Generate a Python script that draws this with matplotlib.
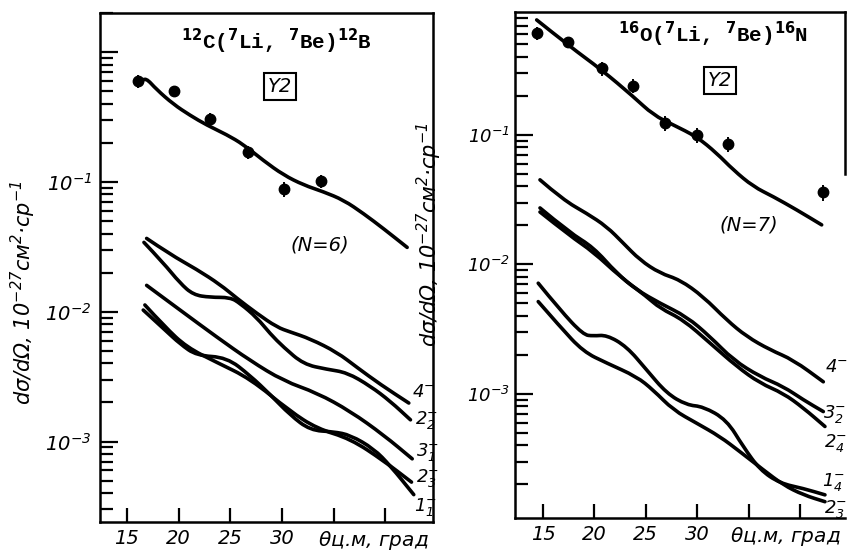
import numpy as np
import matplotlib.pyplot as plt
from matplotlib.ticker import FixedLocator, NullFormatter
from matplotlib.path import Path
from matplotlib.patches import PathPatch

plt.rcParams['mathtext.fontset'] = 'custom'
plt.rcParams['mathtext.rm'] = 'DejaVu Sans:italic'
plt.rcParams['mathtext.it'] = 'DejaVu Sans:italic'
plt.rcParams['mathtext.sf'] = 'DejaVu Sans:italic'
plt.rcParams['mathtext.bf'] = 'DejaVu Sans:bold'

# ---- 12C(7Li,7Be)12B ----
c_exp_theta = [16.1, 19.6, 23.0, 26.7, 30.2, 33.8]
c_exp_sigma = [0.60, 0.50, 0.305, 0.170, 0.088, 0.101]
c_exp_err = [0.07, 0.05, 0.035, 0.02, 0.011, 0.012]

c_sum_theta = [16.58, 16.81, 17.88, 19.49, 21.1, 22.72, 24.66, 26.27, 28.2, 30.15,
               32.08, 34.0, 35.96, 37.9, 39.84, 42.1]
c_sum_sigma = [0.61, 0.637, 0.514, 0.397, 0.326, 0.274, 0.231, 0.194, 0.146, 0.113,
               0.0947, 0.084, 0.0724, 0.0569, 0.0435, 0.0313]

c_4_theta = [16.91, 19.17, 21.75, 24.01, 25.63, 27.57, 29.51, 30.80, 32.73, 35.32, 37.26, 39.52, 42.26]
c_4_sigma = [0.0367, 0.0277, 0.0212, 0.0162, 0.0127, 0.0097, 0.0076, 0.00698, 0.00618,
             0.00487, 0.00372, 0.00275, 0.00198]

c_22_theta = [16.65, 18.52, 20.14, 21.42, 23.04, 24.98, 25.95, 27.57, 28.86, 30.15,
              32.08, 34.35, 36.29, 38.55, 40.48, 42.42]
c_22_sigma = [0.0342, 0.0238, 0.0166, 0.0135, 0.0129, 0.0129, 0.0116, 0.0090, 0.00676,
              0.00533, 0.00394, 0.0036, 0.0034, 0.00267, 0.00204, 0.00147]

c_31_theta = [16.91, 20.14, 23.69, 26.92, 30.15, 33.38, 36.61, 39.84, 42.59]
c_31_sigma = [0.01596, 0.0103, 0.00638, 0.0042, 0.00293, 0.00237, 0.00171, 0.00112, 0.000736]

c_23_theta = [16.74, 18.68, 20.78, 23.69, 26.92, 30.79, 33.38, 36.61, 39.84, 42.52]
c_23_sigma = [0.01127, 0.00764, 0.00533, 0.00407, 0.00305, 0.00171, 0.00126, 0.00105,
              0.00071, 0.000487]

c_11_theta = [16.58, 18.68, 20.14, 21.75, 24.66, 26.92, 28.86, 30.79, 32.73, 34.99,
              36.61, 38.87, 40.48, 42.74]
c_11_sigma = [0.0103, 0.00724, 0.00565, 0.00459, 0.00445, 0.00322, 0.0023, 0.0016,
              0.00122, 0.00119, 0.00112, 0.00088, 0.00065, 0.00039]

# ---- 16O(7Li,7Be)16N ----
o_exp_theta = [14.39, 17.46, 20.71, 23.78, 26.87, 29.95, 33.03, 42.27]
o_exp_sigma = [0.609, 0.525, 0.327, 0.239, 0.123, 0.100, 0.085, 0.0361]
o_exp_err = [0.07, 0.05, 0.04, 0.03, 0.016, 0.013, 0.011, 0.005]

o_sum_theta = [14.39, 17.63, 20.71, 23.78, 25.73, 27.68, 29.95, 31.9, 33.51, 35.46,
               37.4, 39.68, 42.11]
o_sum_sigma = [0.773, 0.481, 0.318, 0.198, 0.1427, 0.1194, 0.097, 0.0723, 0.0537,
               0.0399, 0.0334, 0.0264, 0.0202]

o_4_theta = [14.71, 16.97, 19.25, 21.2, 22.81, 24.44, 26.38, 28.33, 30.59, 32.87,
             34.82, 37.08, 39.35, 42.27]
o_4_sigma = [0.045, 0.0315, 0.0248, 0.0196, 0.0146, 0.0108, 0.00855, 0.0076, 0.00564,
             0.00372, 0.00277, 0.00219, 0.00183, 0.00124]

o_32_theta = [14.71, 17.63, 19.89, 22.17, 24.11, 26.38, 28.98, 31.25, 33.51, 36.11,
              38.38, 40.32, 42.27]
o_32_sigma = [0.0273, 0.0175, 0.0136, 0.00855, 0.00636, 0.00501, 0.00395, 0.00277,
              0.00183, 0.00136, 0.00114, 0.0009, 0.00073]

o_24_theta = [14.71, 17.63, 19.89, 22.49, 25.09, 26.38, 28.65, 31.25, 33.84, 36.11,
              38.38, 40.32, 42.43]
o_24_sigma = [0.0254, 0.0166, 0.0125, 0.00805, 0.00564, 0.00459, 0.00373, 0.00247,
              0.00163, 0.00121, 0.00101, 0.00078, 0.00056]

o_14_theta = [14.54, 16.65, 18.92, 19.9, 21.2, 23.14, 25.09, 27.03, 28.98, 30.59,
              32.87, 34.49, 36.11, 38.05, 40.32, 42.43]
o_14_sigma = [0.00716, 0.00446, 0.00286, 0.0028, 0.00285, 0.00232, 0.00153, 0.00101,
              0.00082, 0.000798, 0.00063, 0.00039, 0.000259, 0.000204, 0.000186, 0.000166]

o_23_theta = [14.54, 16.65, 18.92, 21.2, 24.11, 25.73, 27.68, 29.95, 32.22, 34.16,
              36.43, 38.38, 40.32, 42.43]
o_23_sigma = [0.00516, 0.00331, 0.00212, 0.00173, 0.00136, 0.00107, 0.00075, 0.000594,
              0.000468, 0.000358, 0.000259, 0.000198, 0.000166, 0.000147]

x_ticks = [15, 20, 25, 30, 35, 40]
x_ticklabels = ['15', '20', '25', '30', '', '']

fig = plt.figure(figsize=(8.47, 5.52), dpi=100)
ax1 = fig.add_axes([100 / 847, 30 / 552, 333 / 847, 509 / 552])
ax2 = fig.add_axes([515 / 847, 34 / 552, 330 / 847, 506 / 552])

LW = 2.6
ital = dict(fontstyle='italic', family='DejaVu Sans')


def setup(ax, xlim, ylim, yticks, lab_size):
    ax.set_yscale('log')
    ax.set_xlim(*xlim)
    ax.set_ylim(*ylim)
    for s in ax.spines.values():
        s.set_linewidth(1.8)
    ax.set_xticks(x_ticks)
    ax.set_xticklabels(x_ticklabels, fontsize=14, fontstyle='italic')
    ax.yaxis.set_major_locator(FixedLocator(yticks))
    ax.set_yticklabels([r'$10^{%d}$' % round(np.log10(v)) if v < 0.5 else ''
                        for v in yticks], fontsize=lab_size)
    minors = [m * 10.0 ** e for e in range(-4, 1) for m in range(2, 10)]
    ax.yaxis.set_minor_locator(FixedLocator(minors))
    ax.yaxis.set_minor_formatter(NullFormatter())
    ax.tick_params(which='both', direction='in', top=False, right=False, width=1.6)
    ax.tick_params(axis='y', which='major', length=13, pad=6)
    ax.tick_params(axis='y', which='minor', length=9)
    ax.tick_params(axis='x', which='major', length=10, pad=5)
    ax.text(0.82, -0.037, r'$\theta$ц.м, град', transform=ax.transAxes, ha='center',
            va='center', fontsize=14.5, **ital)
    ax.set_ylabel(r'$d\sigma/d\Omega$, $10^{-27}$см$^2$·ср$^{-1}$', fontsize=15, **ital)


def smooth_line(ax, th, sg):
    # гладкая кривая: квадратичные сегменты Безье по опорным точкам в осях (θ, lg σ)
    x = np.asarray(th, float)
    y = np.log10(np.asarray(sg, float))
    verts = [(x[0], y[0])]
    codes = [Path.MOVETO]
    for i in range(1, len(x) - 1):
        verts += [(x[i], y[i]), ((x[i] + x[i + 1]) / 2, (y[i] + y[i + 1]) / 2)]
        codes += [Path.CURVE3, Path.CURVE3]
    verts.append((x[-1], y[-1]))
    codes.append(Path.LINETO)
    verts = np.array(verts)
    verts[:, 1] = 10 ** verts[:, 1]
    ax.add_patch(PathPatch(Path(verts, codes), fill=False, lw=LW, ec='black',
                           capstyle='round', joinstyle='round'))


def curves(ax, data):
    for th, sg, lab, dx, dy in data:
        smooth_line(ax, th, sg)
        ax.annotate(lab, (th[-1], sg[-1]), xytext=(dx, dy), textcoords='offset points',
                    fontsize=13, ha='left', va='center', **ital)


# левая панель
setup(ax1, (12.4, 44.6), (2.4e-4, 2.0), [1e-3, 1e-2, 1e-1, 1.0], 14)
smooth_line(ax1, c_sum_theta, c_sum_sigma)
ax1.errorbar(c_exp_theta, c_exp_sigma, yerr=c_exp_err, fmt='o', color='black',
             ms=7.5, elinewidth=1.4, capsize=0)
curves(ax1, [
    (c_4_theta, c_4_sigma, r'$4^{-}$', 2, 8),
    (c_22_theta, c_22_sigma, r'$2^{-}_{2}$', 3, 0),
    (c_31_theta, c_31_sigma, r'$3^{-}_{1}$', 3, 5),
    (c_23_theta, c_23_sigma, r'$2^{-}_{3}$', 3, 3),
    (c_11_theta, c_11_sigma, r'$1^{-}_{1}$', 0, -9),
])
ax1.yaxis.set_label_coords(-0.186, 0.45)
ax1.text(0.53, 0.945, r'$^{\mathbf{12}}$C($^{\mathbf{7}}$Li, $^{\mathbf{7}}$Be)$^{\mathbf{12}}$B',
         transform=ax1.transAxes, ha='center', va='center', fontsize=15,
         family='Liberation Mono', weight='bold')
ax1.text(0.54, 0.855, 'Y2', transform=ax1.transAxes, ha='center', va='center',
         fontsize=14, bbox=dict(boxstyle='square,pad=0.2', fc='white', ec='black', lw=1.5),
         **ital)
ax1.text(0.66, 0.545, '(N=6)', transform=ax1.transAxes, ha='center', va='center',
         fontsize=14, **ital)

# правая панель
setup(ax2, (12.28, 44.38), (1.1e-4, 0.89), [1e-3, 1e-2, 1e-1], 13)
ax2.tick_params(axis='y', which='major', pad=4)
ax2.spines['right'].set_bounds(0.05, 0.89)
smooth_line(ax2, o_sum_theta, o_sum_sigma)
ax2.errorbar(o_exp_theta, o_exp_sigma, yerr=o_exp_err, fmt='o', color='black',
             ms=7.5, elinewidth=1.4, capsize=0)
curves(ax2, [
    (o_4_theta, o_4_sigma, r'$4^{-}$', 1, 11),
    (o_32_theta, o_32_sigma, r'$3^{-}_{2}$', 0, -2),
    (o_24_theta, o_24_sigma, r'$2^{-}_{4}$', -1, -12),
    (o_14_theta, o_14_sigma, r'$1^{-}_{4}$', -2, 9),
    (o_23_theta, o_23_sigma, r'$2^{-}_{3}$', -1, -5),
])
ax2.yaxis.set_label_coords(-0.215, 0.56)
ax2.text(0.60, 0.955, r'$^{\mathbf{16}}$O($^{\mathbf{7}}$Li, $^{\mathbf{7}}$Be)$^{\mathbf{16}}$N',
         transform=ax2.transAxes, ha='center', va='center', fontsize=15,
         family='Liberation Mono', weight='bold')
ax2.text(0.62, 0.865, 'Y2', transform=ax2.transAxes, ha='center', va='center',
         fontsize=14, bbox=dict(boxstyle='square,pad=0.2', fc='white', ec='black', lw=1.5),
         **ital)
ax2.text(0.71, 0.58, '(N=7)', transform=ax2.transAxes, ha='center', va='center',
         fontsize=14, **ital)

fig.savefig('out.png', dpi=100)
